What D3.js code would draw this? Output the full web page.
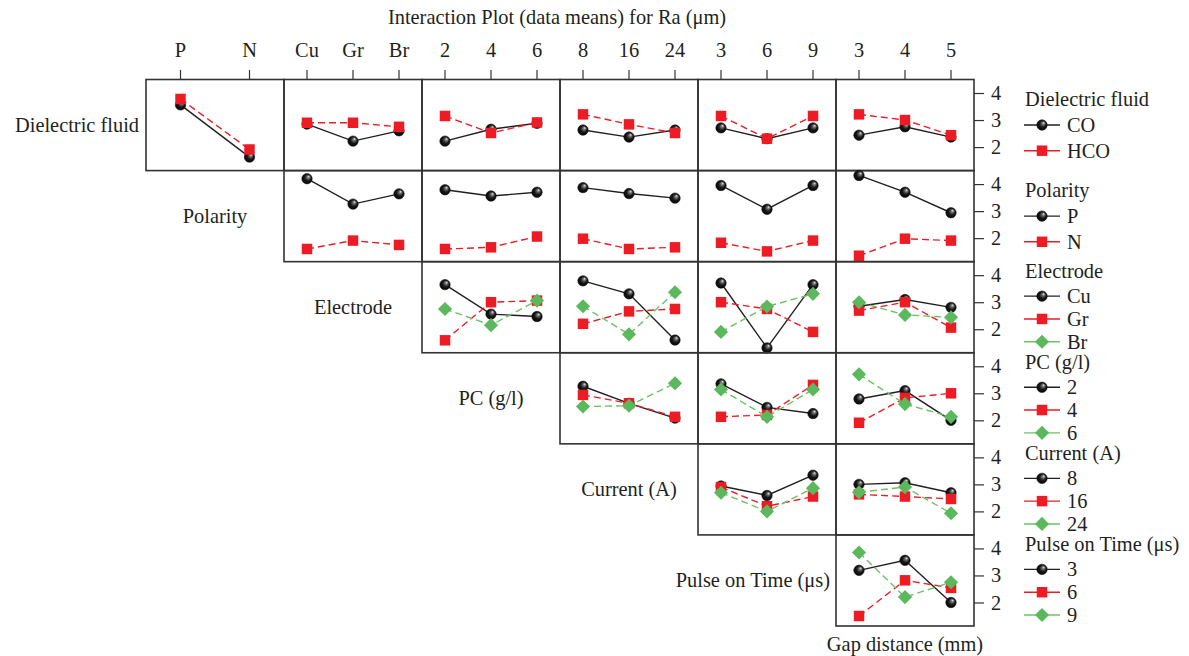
<!DOCTYPE html>
<html>
<head>
<meta charset="utf-8">
<script src="https://cdn.jsdelivr.net/npm/d3@7"></script>
<style>
  body { margin: 0; background: #fff; }
  text { font-family: "Liberation Serif", "DejaVu Serif", serif; fill: #231f20; }
</style>
</head>
<body>
<svg id="chart" width="1189" height="656"></svg>
<script>
// Factors and their levels
const factorNames = ["Dielectric fluid", "Polarity", "Electrode", "PC (g/l)",
  "Current (A)", "Pulse on Time (\u03bcs)", "Gap distance (mm)"];
const factorLevels = [
  ["CO", "HCO"], ["P", "N"], ["Cu", "Gr", "Br"], ["2", "4", "6"],
  ["8", "16", "24"], ["3", "6", "9"], ["3", "4", "5"]
];

// Mean Ra for each level of the row factor, across the levels of each later factor
const dielectricMeans = [
  [[3.56, 1.63], [3.78, 1.91]],                       // Polarity
  [[2.85, 2.22, 2.60], [2.90, 2.90, 2.75]],           // Electrode
  [[2.22, 2.66, 2.88], [3.15, 2.52, 2.91]],           // PC
  [[2.63, 2.37, 2.63], [3.21, 2.84, 2.52]],           // Current
  [[2.71, 2.31, 2.71], [3.15, 2.31, 3.15]],           // Pulse on Time
  [[2.44, 2.75, 2.37], [3.21, 3.00, 2.44]]            // Gap distance
];
const polarityMeans = [
  [[4.20, 3.26, 3.64], [1.60, 1.91, 1.75]],
  [[3.79, 3.56, 3.70], [1.60, 1.66, 2.06]],
  [[3.87, 3.65, 3.48], [1.98, 1.60, 1.66]],
  [[3.95, 3.07, 3.95], [1.83, 1.51, 1.91]],
  [[4.32, 3.70, 2.94], [1.35, 1.98, 1.91]]
];
const electrodeMeans = [
  [[3.65, 2.56, 2.47], [1.59, 3.00, 3.06], [2.75, 2.15, 3.06]],
  [[3.79, 3.31, 1.60], [2.20, 2.66, 2.75], [2.85, 1.81, 3.37]],
  [[3.71, 1.31, 3.65], [3.00, 2.75, 1.90], [1.90, 2.84, 3.31]],
  [[2.85, 3.10, 2.81], [2.69, 3.00, 2.06], [3.00, 2.53, 2.44]]
];
const pcMeans = [
  [[3.26, 2.63, 2.08], [2.94, 2.63, 2.13], [2.51, 2.54, 3.37]],
  [[3.35, 2.48, 2.25], [2.13, 2.20, 3.31], [3.14, 2.13, 3.14]],
  [[2.79, 3.10, 2.00], [1.91, 2.83, 3.00], [3.70, 2.60, 2.13]]
];
const currentMeans = [
  [[2.94, 2.59, 3.34], [2.90, 2.19, 2.55], [2.69, 2.00, 2.86]],
  [[3.00, 3.06, 2.69], [2.63, 2.55, 2.46], [2.71, 2.90, 1.93]]
];
const pulseMeans = [
  [[3.19, 3.56, 2.00], [1.50, 2.82, 2.54], [3.85, 2.20, 2.75]]
];
const meansByRow = [dielectricMeans, polarityMeans, electrodeMeans, pcMeans, currentMeans, pulseMeans];

const yTicks = [2, 3, 4];
const yDomain = [1.13, 4.5];
const chartTitle = "Interaction Plot (data means) for Ra (\u03bcm)";

// Styling
const seriesColors = ["#231f20", "#ed1c24", "#5cb85c"];
const lineColors = ["#231f20", "#ed1c24", "#6cc264"];
const dashes = [null, "7,4", "7,4"];
const frameColor = "#333";
const fontSize = 20.4;

const svg = d3.select("#chart");
const nRows = 6, nCols = 6;
const gridLeft = 146, gridTop = 79.5, gridRight = 974, gridBottom = 626;
const cellW = (gridRight - gridLeft) / nCols;
const cellH = (gridBottom - gridTop) / nRows;

// Gradient for the shaded black ball markers
const defs = svg.append("defs");
const grad = defs.append("radialGradient").attr("id", "ball")
  .attr("cx", "50%").attr("cy", "50%").attr("r", "55%")
  .attr("fx", "68%").attr("fy", "28%");
grad.append("stop").attr("offset", "0%").attr("stop-color", "#f2f2f2");
grad.append("stop").attr("offset", "22%").attr("stop-color", "#777");
grad.append("stop").attr("offset", "55%").attr("stop-color", "#1a1a1a");
grad.append("stop").attr("offset", "100%").attr("stop-color", "#000");

function drawMarker(g, k, x, y) {
  if (k === 0) {
    g.append("circle").attr("cx", x).attr("cy", y).attr("r", 5.2)
      .attr("fill", "url(#ball)").attr("stroke", "#111").attr("stroke-width", 0.6);
  } else if (k === 1) {
    g.append("path").attr("d", d3.symbol(d3.symbolSquare, 110)())
      .attr("transform", `translate(${x},${y})`).attr("fill", seriesColors[1]);
  } else {
    g.append("path").attr("d", d3.symbol(d3.symbolSquare, 100)())
      .attr("transform", `translate(${x},${y}) rotate(45)`).attr("fill", seriesColors[2]);
  }
}

// Title
svg.append("text").attr("x", 557).attr("y", 24).attr("text-anchor", "middle")
  .attr("font-size", fontSize).text(chartTitle);

// Column scales
const xScales = d3.range(nCols).map(c =>
  d3.scalePoint().domain(factorLevels[c + 1])
    .range([gridLeft + c * cellW, gridLeft + (c + 1) * cellW]).padding(0.5));

// Top level labels and tick marks
xScales.forEach(xs => {
  xs.domain().forEach(lv => {
    svg.append("text").attr("x", xs(lv)).attr("y", 57).attr("text-anchor", "middle")
      .attr("font-size", fontSize).text(lv);
    svg.append("line").attr("x1", xs(lv)).attr("x2", xs(lv)).attr("y1", 70).attr("y2", gridTop)
      .attr("stroke", frameColor).attr("stroke-width", 1.2);
  });
});

const line = d3.line();

for (let r = 0; r < nRows; r++) {
  const y0 = gridTop + r * cellH, y1 = y0 + cellH;
  const ys = d3.scaleLinear().domain(yDomain).range([y1, y0]);

  // right axis
  const axis = d3.axisRight(ys).tickValues(yTicks).tickSize(10).tickPadding(7).tickFormat(d3.format("d"));
  const ag = svg.append("g").attr("transform", `translate(${gridRight},0)`).call(axis);
  ag.select(".domain").remove();
  ag.selectAll(".tick line").attr("stroke", frameColor).attr("stroke-width", 1.2);
  ag.selectAll(".tick text").attr("font-size", fontSize)
    .attr("font-family", "Liberation Serif, DejaVu Serif, serif").attr("fill", "#231f20");

  for (let c = r; c < nCols; c++) {
    const xs = xScales[c];
    const g = svg.append("g");
    g.append("rect").attr("x", gridLeft + c * cellW).attr("y", y0)
      .attr("width", cellW).attr("height", cellH)
      .attr("fill", "none").attr("stroke", frameColor).attr("stroke-width", 1.6);
    const series = meansByRow[r][c - r];
    const lv = xs.domain();
    series.forEach((vals, k) => {
      const pts = vals.map((v, i) => [xs(lv[i]), ys(v)]);
      g.append("path").attr("d", line(pts)).attr("fill", "none")
        .attr("stroke", lineColors[k]).attr("stroke-width", 1.4)
        .attr("stroke-dasharray", dashes[k]);
      pts.forEach(p => drawMarker(g, k, p[0], p[1]));
    });
  }
}

// Diagonal factor labels
for (let f = 0; f <= nRows; f++) {
  const cx = gridLeft + (f - 0.5) * cellW;
  const cellRight = gridLeft + f * cellW;
  const yc = f < nRows ? gridTop + (f + 0.5) * cellH + 7 : 651;
  const t = svg.append("text").attr("y", yc).attr("font-size", fontSize)
    .attr("text-anchor", "middle").text(factorNames[f]);
  const w = t.node().getComputedTextLength();
  const x = (f < nRows && w > cellW - 10) ? cellRight - 6 - w / 2 : cx;
  t.attr("x", x);
}

// Legend
const legX = 1024;
for (let r = 0; r < nRows; r++) {
  const y0 = gridTop + r * cellH;
  const lv = factorLevels[r];
  const n = lv.length;
  const titleOff = n === 2 ? 26 : 16.5;
  const first = n === 2 ? 45.5 : 34.5;
  const step = n === 2 ? 25.7 : 22.8;
  svg.append("text").attr("x", legX + 1).attr("y", y0 + titleOff).attr("font-size", fontSize)
    .text(factorNames[r]);
  lv.forEach((name, k) => {
    const yy = y0 + first + k * step;
    const g = svg.append("g");
    g.append("line").attr("x1", legX).attr("x2", legX + 36).attr("y1", yy).attr("y2", yy)
      .attr("stroke", lineColors[k]).attr("stroke-width", 1.4);
    drawMarker(g, k, legX + 18, yy);
    svg.append("text").attr("x", legX + 43).attr("y", yy + 7).attr("font-size", fontSize).text(name);
  });
}
</script>
</body>
</html>
